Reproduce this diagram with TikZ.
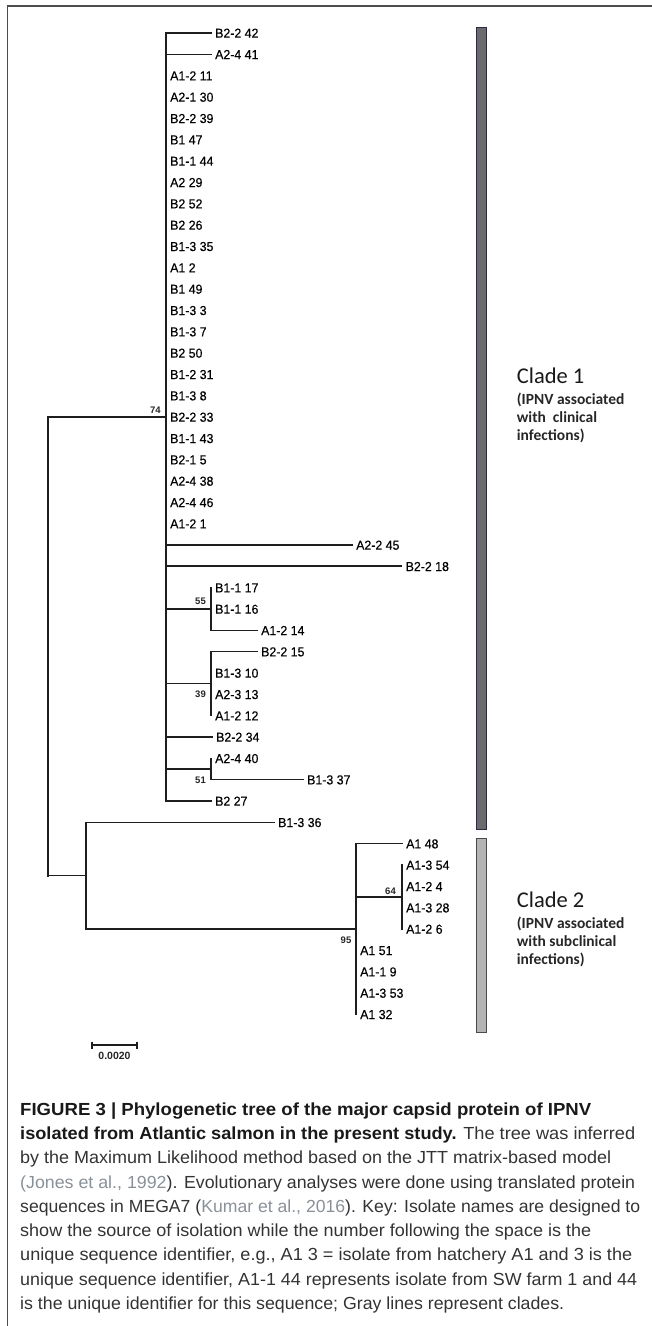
\documentclass[tikz,border=0pt]{standalone}
\usepackage{fontspec}
\usepackage{graphicx}
\setmainfont{Liberation Sans}
\newfontfamily\labfont[FakeStretch=0.95,FakeBold=0.4]{Liberation Sans}
\newfontfamily\clfont{Carlito}
\definecolor{treeline}{HTML}{1E1E1E}
\definecolor{framecol}{HTML}{4D4D4D}
\definecolor{barone}{HTML}{6B6B6B}
\definecolor{baronedraw}{HTML}{2A2A40}
\definecolor{bartwo}{HTML}{B4B4B4}
\definecolor{bartwodraw}{HTML}{4A4A4A}
\definecolor{captxt}{HTML}{333333}
\definecolor{cite}{HTML}{8A9098}
\tikzset{
  br/.style={line width=1.3pt, draw=treeline, line cap=rect},
  brthick/.style={line width=1.8pt, draw=treeline, line cap=rect},
  leaf/.style={anchor=west, inner xsep=4pt, inner ysep=0pt, text height=9.4pt, text depth=0pt,
    font=\labfont\fontsize{13}{15}\selectfont, text=black},
  boot/.style={inner sep=0pt, font=\bfseries\fontsize{9.5}{11}\selectfont, text=black!85},
  cladetitle/.style={anchor=base west, inner sep=0pt, font=\clfont\fontsize{22.5}{26}\selectfont, text=black!90},
  cladesub/.style={anchor=base west, inner sep=0pt, font=\clfont\bfseries\fontsize{15.5}{18}\selectfont, text=black!85},
  capline/.style={anchor=base west, inner sep=0pt, font=\fontsize{17.5}{21}\selectfont, text=captxt},
}
\begin{document}
\begin{tikzpicture}[x=1pt,y=-1pt]
\useasboundingbox (0,0) rectangle (652,1326);
% frame
\draw[line width=1.3pt, draw=framecol] (7.5,1326) -- (7.5,6) -- (652,6);

% internal nodes
\coordinate (root) at (48,646.33);
\coordinate (c1) at (166,417);
\coordinate (n55) at (211,609);
\coordinate (n39) at (211,683.67);
\coordinate (n51) at (211,769);
\coordinate (n86) at (86,875.67);
\coordinate (c2) at (356,929);
\coordinate (n64) at (402,897);

% leaves clade 1
\node[leaf] (l0) at (211,33.00) {B2-2 42};
\node[leaf] (l1) at (211,54.33) {A2-4 41};
\node[leaf] (l2) at (166,75.67) {A1-2 11};
\node[leaf] (l3) at (166,97.00) {A2-1 30};
\node[leaf] (l4) at (166,118.33) {B2-2 39};
\node[leaf] (l5) at (166,139.67) {B1 47};
\node[leaf] (l6) at (166,161.00) {B1-1 44};
\node[leaf] (l7) at (166,182.33) {A2 29};
\node[leaf] (l8) at (166,203.67) {B2 52};
\node[leaf] (l9) at (166,225.00) {B2 26};
\node[leaf] (l10) at (166,246.33) {B1-3 35};
\node[leaf] (l11) at (166,267.67) {A1 2};
\node[leaf] (l12) at (166,289.00) {B1 49};
\node[leaf] (l13) at (166,310.33) {B1-3 3};
\node[leaf] (l14) at (166,331.67) {B1-3 7};
\node[leaf] (l15) at (166,353.00) {B2 50};
\node[leaf] (l16) at (166,374.33) {B1-2 31};
\node[leaf] (l17) at (166,395.67) {B1-3 8};
\node[leaf] (l18) at (166,417.00) {B2-2 33};
\node[leaf] (l19) at (166,438.33) {B1-1 43};
\node[leaf] (l20) at (166,459.67) {B2-1 5};
\node[leaf] (l21) at (166,481.00) {A2-4 38};
\node[leaf] (l22) at (166,502.33) {A2-4 46};
\node[leaf] (l23) at (166,523.67) {A1-2 1};
\node[leaf] (l24) at (352,545.00) {A2-2 45};
\node[leaf] (l25) at (401.5,566.33) {B2-2 18};
\node[leaf] (l26) at (211,587.67) {B1-1 17};
\node[leaf] (l27) at (211,609.00) {B1-1 16};
\node[leaf] (l28) at (257,630.33) {A1-2 14};
\node[leaf] (l29) at (257,651.67) {B2-2 15};
\node[leaf] (l30) at (211,673.00) {B1-3 10};
\node[leaf] (l31) at (211,694.33) {A2-3 13};
\node[leaf] (l32) at (211,715.67) {A1-2 12};
\node[leaf] (l33) at (212,737.00) {B2-2 34};
\node[leaf] (l34) at (211,758.33) {A2-4 40};
\node[leaf] (l35) at (303,779.67) {B1-3 37};
\node[leaf] (l36) at (211,801.00) {B2 27};
\node[leaf] (l37) at (274,822.33) {B1-3 36};
% clade 2
\node[leaf] (l38) at (402,843.67) {A1 48};
\node[leaf] (l39) at (402,865.00) {A1-3 54};
\node[leaf] (l40) at (402,886.33) {A1-2 4};
\node[leaf] (l41) at (402,907.67) {A1-3 28};
\node[leaf] (l42) at (402,929.00) {A1-2 6};
\node[leaf] (l43) at (356,950.33) {A1 51};
\node[leaf] (l44) at (356,971.67) {A1-1 9};
\node[leaf] (l45) at (356,993.00) {A1-3 53};
\node[leaf] (l46) at (356,1014.33) {A1 32};

% root
\draw[brthick] (root |- c1) -- (root |- n86);
\draw[brthick] (root |- c1) -- (c1);
\draw[br] (root |- n86) -- (n86);
% clade 1 backbone
\draw[br] (c1 |- l0.west) -- (c1 |- l36.west);
\draw[br] (c1 |- l0.west) -- (l0.west);
\draw[br] (c1 |- l1.west) -- (l1.west);
\draw[br] (c1 |- l24.west) -- (l24.west);
\draw[brthick] (c1 |- l25.west) -- (l25.west);
\draw[br] (c1 |- n55) -- (n55);
\draw[br] (c1 |- n39) -- (n39);
\draw[br] (c1 |- l33.west) -- (l33.west);
\draw[br] (c1 |- n51) -- (n51);
\draw[br] (c1 |- l36.west) -- (l36.west);
% subclade 55
\draw[br] (n55 |- l26.west) -- (n55 |- l28.west);
\draw[br] (n55 |- l28.west) -- (l28.west);
% subclade 39
\draw[br] (n39 |- l29.west) -- (n39 |- l32.west);
\draw[br] (n39 |- l29.west) -- (l29.west);
% subclade 51
\draw[br] (n51 |- l34.west) -- (n51 |- l35.west);
\draw[br] (n51 |- l35.west) -- (l35.west);
% node 86
\draw[br] (n86 |- l37.west) -- (n86 |- c2);
\draw[br] (n86 |- l37.west) -- (l37.west);
\draw[br] (n86 |- c2) -- (c2);
% clade 2
\draw[br] (c2 |- l38.west) -- (c2 |- l46.west);
\draw[br] (c2 |- l38.west) -- (l38.west);
\draw[br] (c2 |- n64) -- (n64);
\draw[br] (n64 |- l39.west) -- (n64 |- l42.west);

% bootstrap values
\node[boot] (b74) at (155.3,410.7) {74};
\node[boot] (b55) at (200.5,601.7) {55};
\node[boot] (b39) at (200.5,694) {39};
\node[boot] (b51) at (200.5,780) {51};
\node[boot] (b95) at (346,940) {95};
\node[boot] (b64) at (390.5,891) {64};

% clade bars
\node[draw=baronedraw, fill=barone, line width=1pt, minimum width=10pt, minimum height=802pt, inner sep=0pt] (bar1) at (481,428) {};
\node[draw=bartwodraw, fill=bartwo, line width=1pt, minimum width=10pt, minimum height=194pt, inner sep=0pt] (bar2) at (481,935) {};

% clade labels
\node[cladetitle] (ct1) at (516.7,383.3) {Clade 1};
\node[cladesub] (cs1a) at (516.7,404.3) {(IPNV associated};
\node[cladesub] (cs1b) at (516.7,422.3) {with\ \ clinical};
\node[cladesub] (cs1c) at (516.7,440.3) {infections)};
\node[cladetitle] (ct2) at (516.7,907.3) {Clade 2};
\node[cladesub] (cs2a) at (516.7,928.3) {(IPNV associated};
\node[cladesub] (cs2b) at (516.7,946.3) {with subclinical};
\node[cladesub] (cs2c) at (516.7,964.3) {infections)};

% scale bar
\coordinate (sbl) at (92,1045);
\coordinate (sbr) at (137,1045);
\draw[line width=1.3pt, draw=treeline] (sbl) -- (sbr);
\draw[line width=1.3pt, draw=treeline] ([yshift=3.5pt]sbl) -- ([yshift=-3.5pt]sbl);
\draw[line width=1.3pt, draw=treeline] ([yshift=3.5pt]sbr) -- ([yshift=-3.5pt]sbr);
\node[inner sep=0pt, font=\bfseries\fontsize{10.5}{12}\selectfont, text=black!85] (sblab) at (114.5,1055.5) {0.0020};

% caption
\node[capline] (cap1) at (20,1115.3) {\resizebox{571pt}{\height}{\color{black!90}\bfseries FIGURE 3 | Phylogenetic tree of the major capsid protein of IPNV}};
\node[capline] (cap2) at (20,1139.55) {\resizebox{615pt}{\height}{{\color{black!90}\bfseries isolated from Atlantic salmon in the present study.} The tree was inferred}};
\node[capline] (cap3) at (20,1163.8) {\resizebox{591pt}{\height}{by the Maximum Likelihood method based on the JTT matrix-based model}};
\node[capline] (cap4) at (20,1188.05) {\resizebox{615pt}{\height}{{\color{cite}(Jones et al., 1992}). Evolutionary analyses were done using translated protein}};
\node[capline] (cap5) at (20,1212.3) {\resizebox{620pt}{\height}{sequences in MEGA7 ({\color{cite}Kumar et al., 2016}). Key: Isolate names are designed to}};
\node[capline] (cap6) at (20,1236.55) {\resizebox{571pt}{\height}{show the source of isolation while the number following the space is the}};
\node[capline] (cap7) at (20,1260.8) {\resizebox{612pt}{\height}{unique sequence identifier, e.g., A1 3 = isolate from hatchery A1 and 3 is the}};
\node[capline] (cap8) at (20,1285.05) {\resizebox{617pt}{\height}{unique sequence identifier, A1-1 44 represents isolate from SW farm 1 and 44}};
\node[capline] (cap9) at (20,1309.3) {\resizebox{544pt}{\height}{is the unique identifier for this sequence; Gray lines represent clades.}};
\end{tikzpicture}
\end{document}
